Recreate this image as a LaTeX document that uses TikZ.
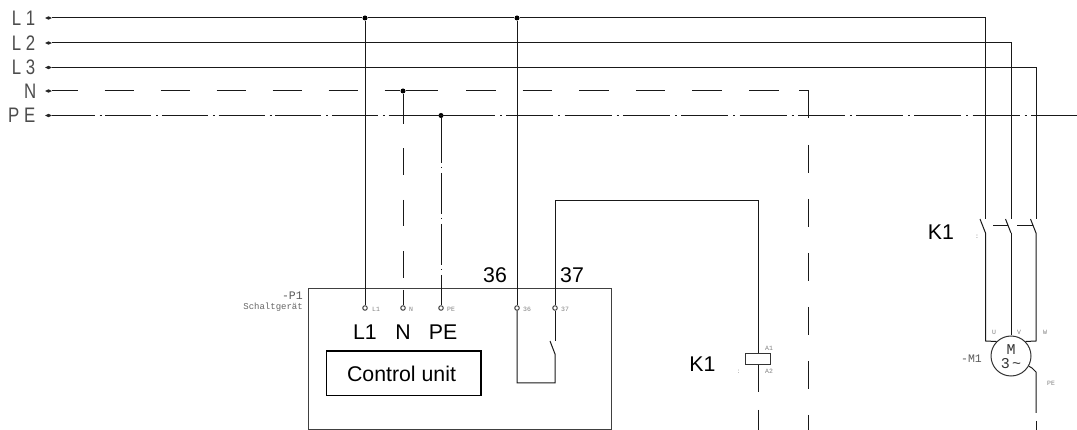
\documentclass[tikz,border=0pt]{standalone}
\usepackage{fontspec}
\setmainfont{Liberation Sans}
\newfontfamily\cadfont[FakeStretch=0.8]{Liberation Sans}
\newfontfamily\cadmono{Liberation Mono}
\usetikzlibrary{shapes.geometric}
\tikzset{
  wire/.style={line width=1pt,black!90},
  nwire/.style={wire,dash pattern=on 29 off 27},
  pewire/.style={wire,dash pattern=on 46 off 5 on 2 off 3.67},
  feed/.style={diamond,fill=black!85,aspect=2,inner sep=0pt,minimum width=7pt,minimum height=3.5pt},
  junction/.style={circle,fill=black,inner sep=0pt,minimum size=5pt},
  terminal/.style={circle,draw=black!75,line width=1pt,inner sep=0pt,minimum size=4.5pt},
  bigtext/.style={inner sep=0pt,font=\fontsize{21.3}{21.3}\selectfont},
  linetext/.style={inner sep=0pt,anchor=east,text=black!70,font=\cadfont\fontsize{21}{21}\selectfont},
  cadtext/.style={inner sep=0pt,text=black!65,font=\cadmono\fontsize{11.5}{11.5}\selectfont},
  smalltext/.style={inner sep=0pt,text=black!60,font=\cadmono\fontsize{9}{9}\selectfont},
  tinytext/.style={inner sep=0pt,text=black!50,font=\cadmono\fontsize{6.5}{6.5}\selectfont},
}
\begin{document}
\begin{tikzpicture}[x=1pt,y=-1pt]
  \useasboundingbox (0,0) rectangle (1077,430);
  % feed lines
  \node[linetext] (lL1) at (35.5,18) {L 1};
  \node[linetext] (lL2) at (35.5,43) {L 2};
  \node[linetext] (lL3) at (35.5,67) {L 3};
  \node[linetext] (lN) at (36.5,91) {N};
  \node[linetext] (lPE) at (35.5,115) {P E};
  \node[feed] (fL1) at (48.5,18) {};
  \node[feed] (fL2) at (48.5,43) {};
  \node[feed] (fL3) at (48.5,67.5) {};
  \node[feed] (fN) at (48.5,91) {};
  \node[feed] (fPE) at (48.5,115.5) {};
  \node[junction] (j1) at (365,18) {};
  \node[junction] (j2) at (517,18) {};
  \node[junction] (j3) at (403,91) {};
  \node[junction] (j4) at (441,115.5) {};
  % unit
  \draw[line width=1pt,black!75] (308.5,289) rectangle (611.5,429.5);
  \draw[line width=1.3pt] (326.5,351) rectangle (481,395.5);
  \node[terminal] (tL1) at (365,308) {};
  \node[terminal] (tN) at (403,308) {};
  \node[terminal] (tPE) at (441,308) {};
  \node[terminal] (t36) at (517,308) {};
  \node[terminal] (t37) at (555,308) {};
  \node[tinytext] at (376,309) {L1};
  \node[tinytext] at (411,309) {N};
  \node[tinytext] at (451,309) {PE};
  \node[tinytext] at (527,309) {36};
  \node[tinytext] at (565,309) {37};
  \node[bigtext] at (365,332.5) {L1};
  \node[bigtext] at (403,332.5) {N};
  \node[bigtext] at (443,332.5) {PE};
  \node[bigtext] at (401.5,374) {Control unit};
  \node[bigtext] at (495,275) {36};
  \node[bigtext] at (572,275) {37};
  \node[cadtext,anchor=east] at (303,296) {-P1};
  \node[smalltext,anchor=east] at (303,307) {Schaltgerät};
  % points on the broken lines
  \coordinate (n2) at (438,91);
  \coordinate (n3) at (466,91);
  \coordinate (n4) at (779,91);
  \coordinate (n5) at (799,91);
  \coordinate (n6) at (808,91);
  \coordinate (n7) at (808,118);
  \coordinate (n8) at (808,145);
  \coordinate (n9) at (808,430);
  \coordinate (p1) at (435,115.5);
  \coordinate (p2) at (448,115.5);
  \coordinate (p3) at (1077,115.5);
  \coordinate (d1) at (403,124);
  \coordinate (d2) at (403,148.3);
  \coordinate (d3) at (403,278);
  \coordinate (d4) at (403,290);
  \coordinate (e1) at (441,122);
  % L lines
  \draw[wire] (fL1) -- (j1) -- (j2) -- (985.5,18) -- (985.5,219) coordinate (c1);
  \draw[wire] (fL2) -- (1011,43) -- (1011,219) coordinate (c2);
  \draw[wire] (fL3) -- (1036,67.5) -- (1036,219) coordinate (c3);
  % N and PE
  \draw[nwire,dash phase=3.7] (fN) -- (j3);
  \draw[wire] (j3) -- (n2);
  \draw[wire,dash pattern=on 29.6 off 27] (n3) -- (n4);
  \draw[wire] (n5) -- (n6) -- (n7);
  \draw[wire,dash pattern=on 28 off 26] (n8) -- (n9);
  \draw[pewire,dash phase=3.67] (fPE) -- (p1);
  \draw[wire] (p1) -- (p2);
  \draw[wire,dash pattern=on 47 off 5 on 2 off 4.3] (p2) -- (p3);
  % drops to the unit
  \draw[wire] (j1) -- (tL1);
  \draw[wire] (j3) -- (d1);
  \draw[wire,dash pattern=on 26.7 off 24.8] (d2) -- (d3);
  \draw[wire] (d4) -- (tN);
  \draw[wire] (j4) -- (e1);
  \draw[wire,dash pattern=on 41 off 4 on 1.5 off 4.5] (e1) -- (tPE);
  % contact inside the unit
  \draw[wire] (j2) -- (t36);
  \coordinate (s1) at (555,341);
  \coordinate (s2) at (550,341);
  \coordinate (s3) at (555,354);
  \draw[wire] (t36) -- (517,383) -- (555,383) -- (s3) -- (s2);
  \draw[wire] (t37) -- (s1);
  % coil
  \node[draw=black!80,line width=1pt,inner sep=0pt,minimum width=25pt,minimum height=11pt] (coil) at (758,358.7) {};
  \coordinate (k1) at (758,392);
  \coordinate (k2) at (758,410);
  \coordinate (k3) at (758,430);
  \draw[wire] (t37) -- (555,201) -- (758,201) -- (coil);
  \draw[wire] (coil) -- (k1);
  \draw[wire] (k2) -- (k3);
  \node[tinytext] at (769,348) {A1};
  \node[tinytext] at (769,371) {A2};
  \node[tinytext,text=black!35] at (738.5,372) {:};
  \node[bigtext] at (702.5,364) {K1};
  % main contacts
  \node[bigtext] at (941,232) {K1};
  \node[tinytext,text=black!45] at (977,237) {:};
  \coordinate (m1) at (980,219);
  \coordinate (m2) at (985.5,233);
  \coordinate (m3) at (1005.5,219);
  \coordinate (m4) at (1011,233);
  \coordinate (m5) at (1030.5,219);
  \coordinate (m6) at (1036,233);
  \coordinate (m7) at (993,225.5);
  \coordinate (m8) at (1008,225.5);
  \coordinate (m9) at (1017,225.5);
  \coordinate (m10) at (1033,225.5);
  \draw[wire] (m1) -- (m2);
  \draw[wire] (m3) -- (m4);
  \draw[wire] (m5) -- (m6);
  \draw[wire] (m7) -- (m8);
  \draw[wire] (m9) -- (m10);
  % motor
  \node[circle,draw=black!80,line width=1pt,inner sep=0pt,minimum size=40pt] (motor) at (1011,356) {};
  \node[inner sep=0pt,font=\cadmono\fontsize{15}{15}\selectfont,text=black!80] at (1011,350) {M};
  \node[inner sep=0pt,font=\cadmono\fontsize{15}{15}\selectfont,text=black!80] at (1011,364) {3\,\~{}};
  \draw[wire] (m2) -- (985.5,341) -- (motor.north west);
  \draw[wire] (m4) -- (motor);
  \draw[wire] (m6) -- (1036,341) -- (motor.north east);
  \coordinate (g1) at (1032,368);
  \coordinate (g2) at (1036,372);
  \coordinate (g3) at (1036,413);
  \coordinate (g4) at (1036,421);
  \coordinate (g5) at (1036,430);
  \draw[wire] (motor) -- (g1) -- (g2) -- (g3);
  \draw[wire] (g4) -- (g5);
  \node[tinytext] at (994,332) {U};
  \node[tinytext] at (1019,332) {V};
  \node[tinytext] at (1045,332) {W};
  \node[tinytext] at (1051,383) {PE};
  \node[cadtext,anchor=east] at (982,359) {-M1};
\end{tikzpicture}
\end{document}
